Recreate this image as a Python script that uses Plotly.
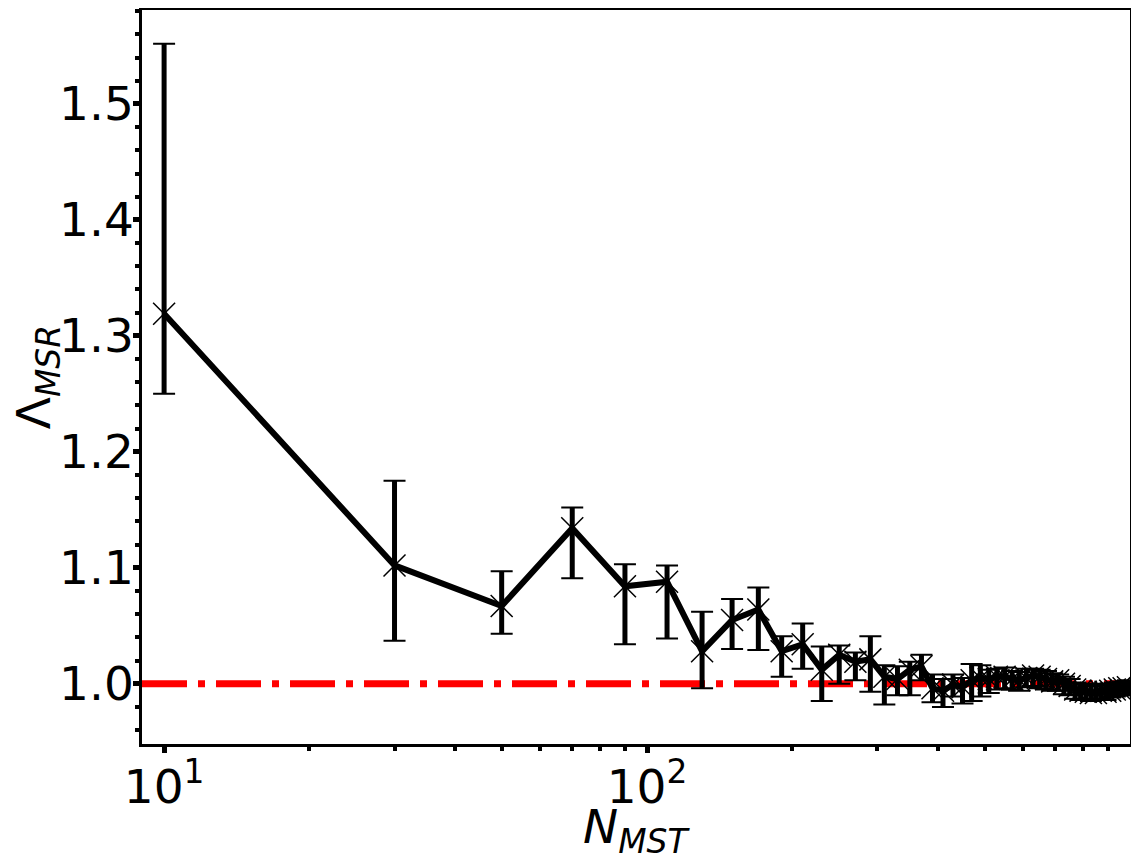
import numpy as np
import plotly.graph_objects as go

# MSR ratio against MST size, with asymmetric error ranges
n_mst = [10, 30, 50, 70, 90, 110, 130, 150, 170, 190, 210, 230, 250, 270, 290,
         310, 330, 350, 370, 390, 410, 430, 450, 470, 490, 510, 530, 550, 570,
         590, 610, 630, 650, 670, 690, 710, 730, 750, 770, 790, 810, 830, 850,
         870, 890, 910, 930, 950, 970, 990]
lam_msr = [1.319, 1.102, 1.067, 1.134, 1.084, 1.088, 1.028, 1.055, 1.064, 1.028,
           1.034, 1.012, 1.025, 1.019, 1.021, 1.006, 1.004, 1.012, 1.015, 0.996,
           0.994, 0.999, 0.997, 1.003, 1.005, 1.004, 1.006, 1.006, 1.004, 1.003,
           1.005, 1.007, 1.006, 1.004, 1.002, 1.003, 1.000, 0.998, 0.995, 0.994,
           0.993, 0.992, 0.992, 0.994, 0.993, 0.994, 0.995, 0.996, 0.996, 0.997]
lam_hi = [1.552, 1.175, 1.097, 1.152, 1.103, 1.102, 1.062, 1.073, 1.083, 1.041,
          1.052, 1.032, 1.033, 1.027, 1.041, 1.016, 1.015, 1.019, 1.025, 1.008,
          1.004, 1.008, 1.005, 1.017, 1.016, 1.012, 1.013, 1.014, 1.011, 1.010,
          1.013, 1.013, 1.012, 1.011, 1.009, 1.008, 1.006, 1.004, 1.001, 1.000,
          0.999, 0.998, 0.999, 1.000, 0.999, 1.000, 1.001, 1.001, 1.002, 1.003]
lam_lo = [1.250, 1.037, 1.043, 1.091, 1.034, 1.039, 0.996, 1.030, 1.029, 1.006,
          1.013, 0.985, 1.000, 1.003, 0.993, 0.982, 0.990, 0.990, 1.003, 0.984,
          0.980, 0.989, 0.983, 0.985, 0.989, 0.992, 0.995, 0.996, 0.995, 0.994,
          0.997, 0.998, 0.996, 0.995, 0.994, 0.994, 0.991, 0.990, 0.987, 0.986,
          0.986, 0.985, 0.986, 0.987, 0.986, 0.988, 0.989, 0.990, 0.990, 0.991]
ref_level = 1.0

x_tickvals = [10, 100]
x_ticktext = ['10<sup>1</sup>', '10<sup>2</sup>']
x_minorvals = [20, 30, 40, 50, 60, 70, 80, 90, 200, 300, 400, 500, 600, 700, 800, 900]
y_tickvals = [1.0, 1.1, 1.2, 1.3, 1.4, 1.5]
x_title = '<i>N<sub>MST</sub></i>'
y_title = '\u039b<sub><i>MSR</i></sub>'

val = np.array(lam_msr)
err_plus = np.array(lam_hi) - val
err_minus = val - np.array(lam_lo)

fig = go.Figure()

fig.add_hline(y=ref_level, line=dict(color='red', width=7, dash='45px,11px,7px,11px'),
              layer='below')

# thick error bar stems
fig.add_trace(go.Scatter(
    x=n_mst, y=lam_msr, mode='markers', marker=dict(size=0.1, color='black'),
    error_y=dict(type='data', symmetric=False, array=err_plus, arrayminus=err_minus,
                 color='black', thickness=5, width=0),
    showlegend=False, hoverinfo='skip'))
# thin caps
fig.add_trace(go.Scatter(
    x=n_mst, y=lam_msr, mode='markers', marker=dict(size=0.1, color='black'),
    error_y=dict(type='data', symmetric=False, array=err_plus, arrayminus=err_minus,
                 color='black', thickness=2, width=11),
    showlegend=False, hoverinfo='skip'))
# line + x markers
fig.add_trace(go.Scatter(
    x=n_mst, y=lam_msr, mode='lines+markers',
    line=dict(color='black', width=6),
    marker=dict(symbol='x-thin', size=22, color='black',
                line=dict(color='black', width=1.5)),
    showlegend=False))

# page body adds 8px, so the figure is a bit smaller than the window
fig.update_layout(
    width=1131, height=851,
    margin=dict(l=134, r=9, t=2, b=115),
    plot_bgcolor='white', paper_bgcolor='white',
    font=dict(family='DejaVu Sans', size=47, color='black'),
)
fig.update_xaxes(
    type='log', range=[np.log10(9), np.log10(1000)], automargin=False,
    tickvals=x_tickvals, ticktext=x_ticktext, ticklabelstandoff=-6,
    ticks='outside', ticklen=6, tickwidth=5, tickcolor='black',
    minor=dict(ticks='outside', ticklen=4, tickwidth=4, tickcolor='black',
               tickvals=x_minorvals),
    showline=True, linecolor='black', linewidth=2.5, mirror=True,
    showgrid=False, zeroline=False,
)
fig.update_yaxes(
    range=[0.948, 1.581], automargin=False,
    tickvals=y_tickvals, tickformat='.1f', ticklabelstandoff=-10,
    ticks='outside', ticklen=6, tickwidth=5, tickcolor='black',
    minor=dict(ticks='outside', ticklen=4, tickwidth=4, tickcolor='black', dtick=0.02),
    showline=True, linecolor='black', linewidth=2.5, mirror=True,
    showgrid=False, zeroline=False,
)

# axis titles as annotations so they sit where the original puts them
fig.add_annotation(text=x_title, xref='paper', yref='paper', x=0.5, y=-0.117,
                   xanchor='center', yanchor='middle', showarrow=False,
                   font=dict(size=47))
fig.add_annotation(text=y_title, xref='paper', yref='paper', x=-0.106, y=0.5,
                   xanchor='center', yanchor='middle', textangle=-90, showarrow=False,
                   font=dict(size=47))

fig.write_html('out.html')
